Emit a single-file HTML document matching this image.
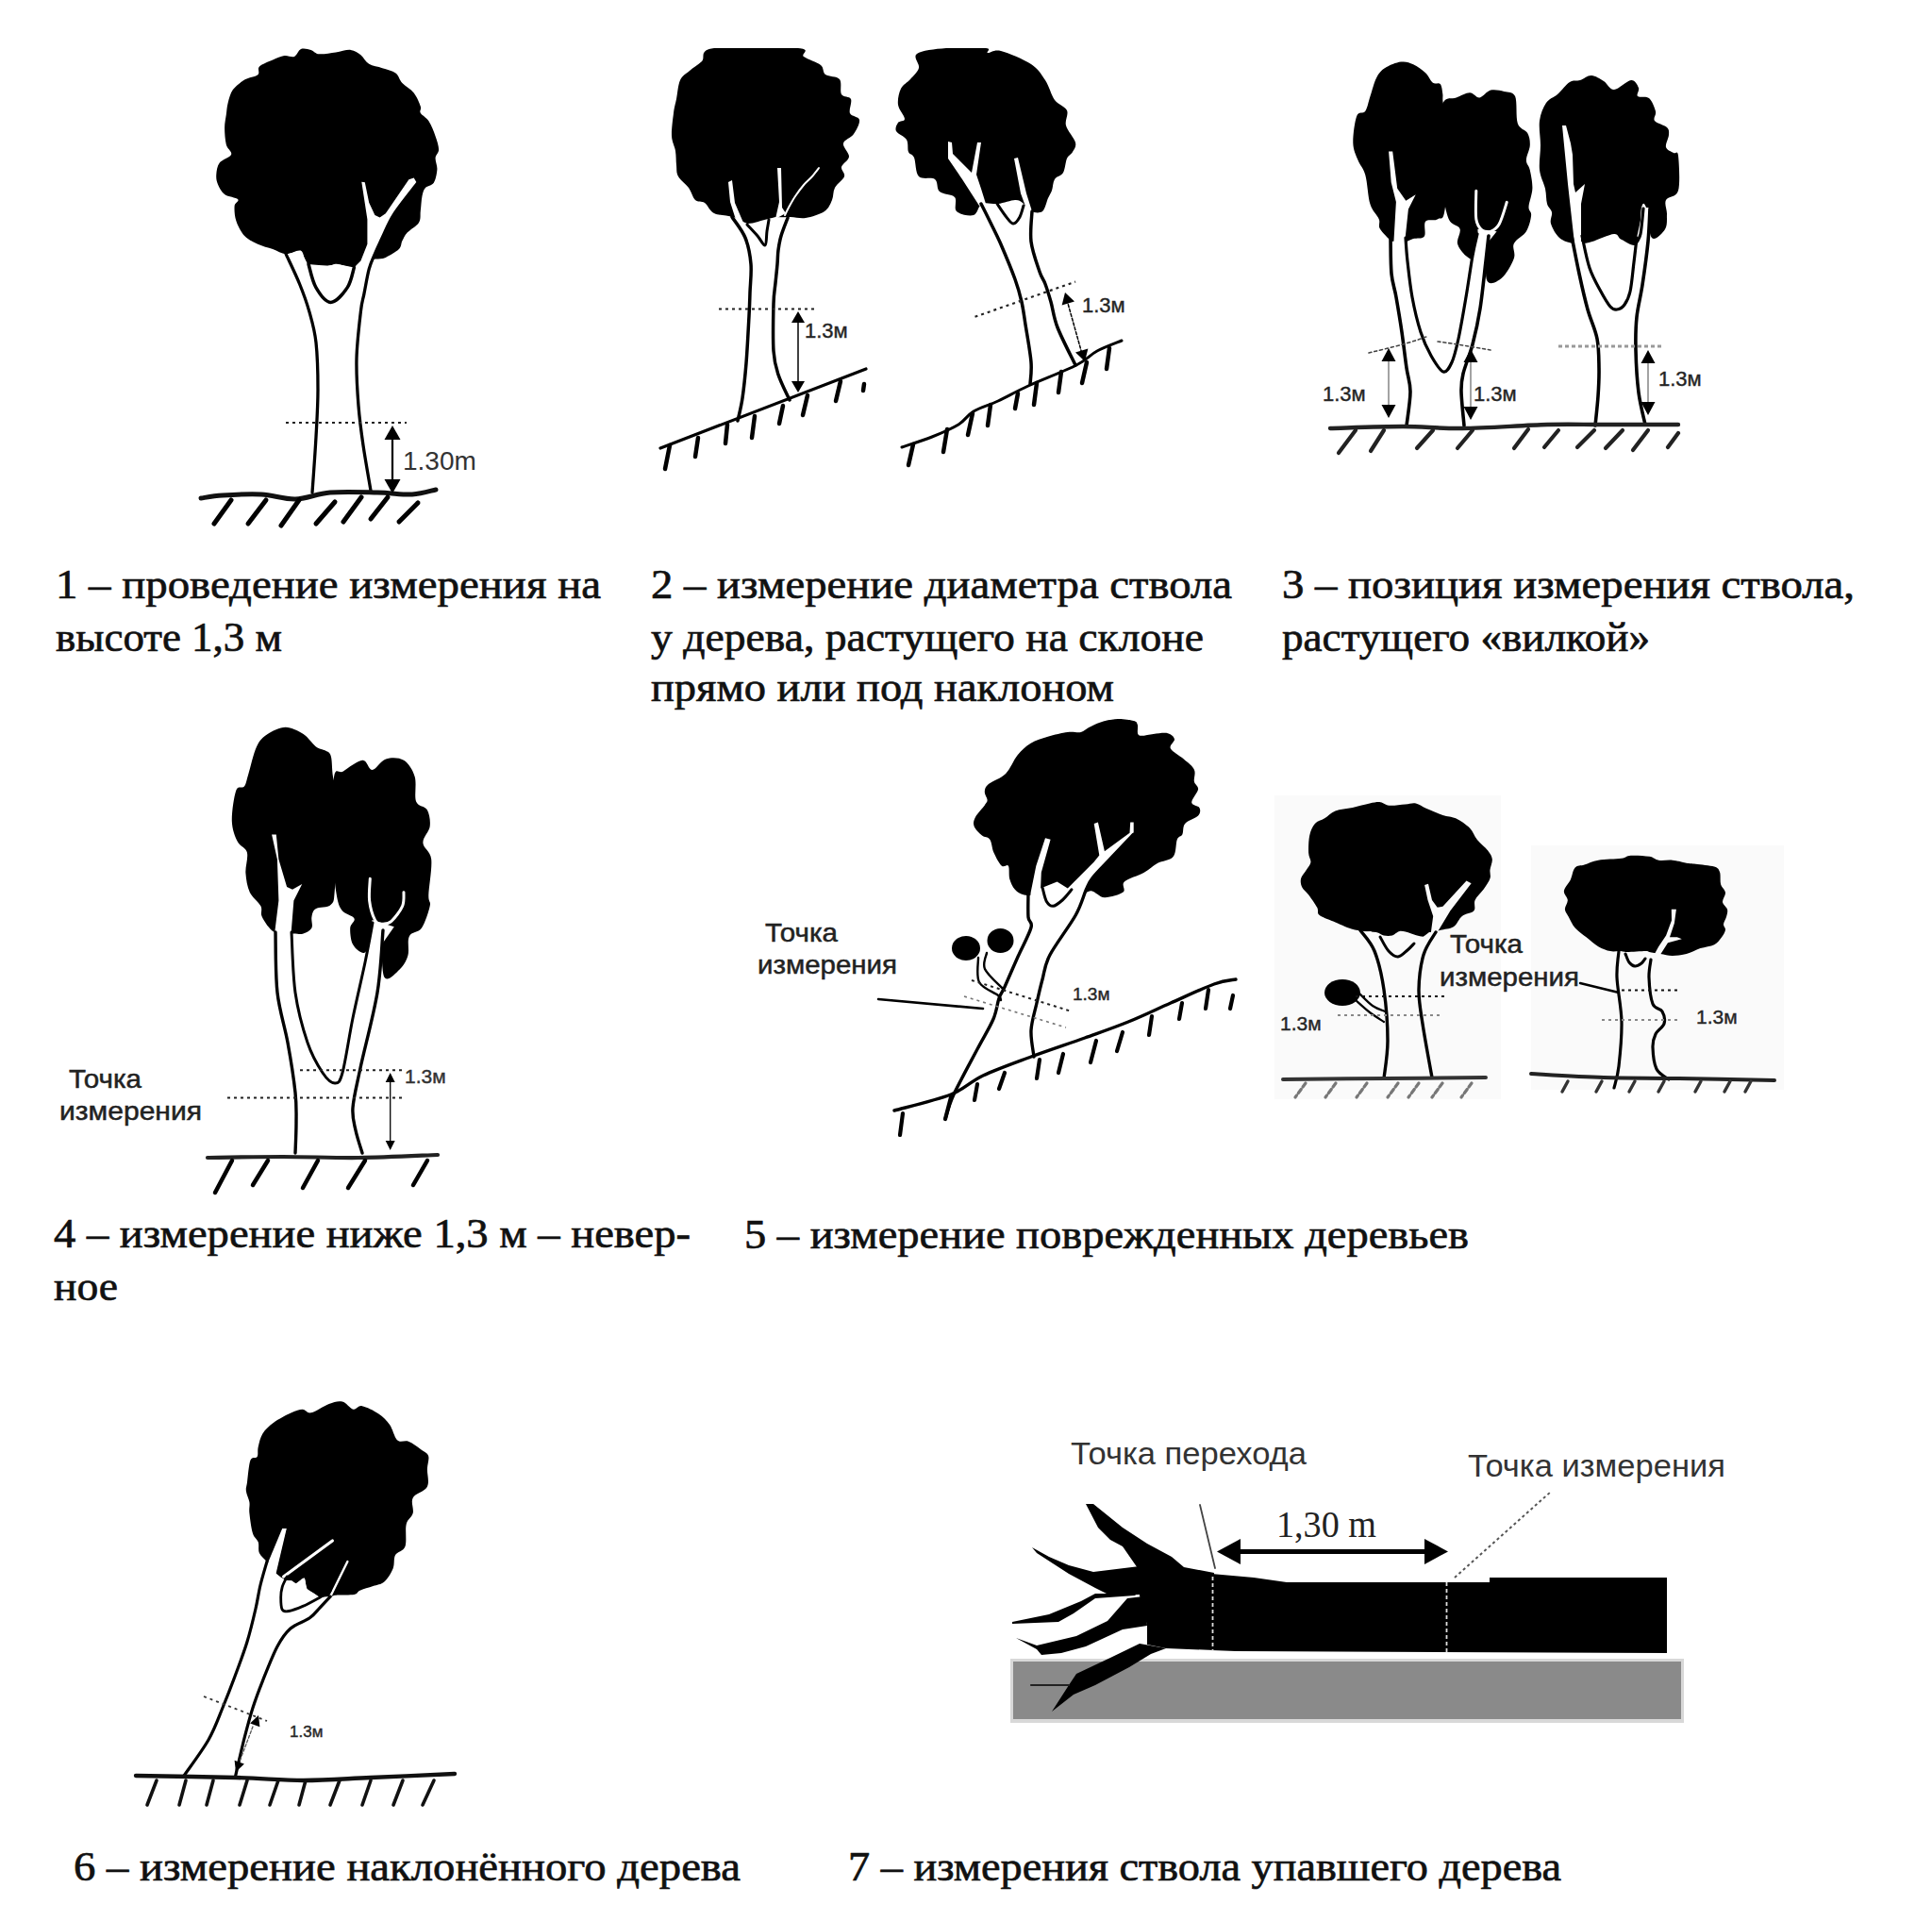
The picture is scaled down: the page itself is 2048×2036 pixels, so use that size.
<!DOCTYPE html>
<html><head><meta charset="utf-8"><style>
html,body{margin:0;padding:0;background:#fff;width:2048px;height:2036px;overflow:hidden}
svg{position:absolute;left:0;top:0}
</style></head><body>
<svg width="2048" height="2036" viewBox="0 0 2048 2036">
<text x="59" y="634" font-family="Liberation Serif" font-size="44" fill="#111" stroke="#111" stroke-width="0.7" textLength="578" lengthAdjust="spacingAndGlyphs">1 – проведение измерения на</text>
<text x="59" y="690" font-family="Liberation Serif" font-size="44" fill="#111" stroke="#111" stroke-width="0.7" textLength="240" lengthAdjust="spacingAndGlyphs">высоте 1,3 м</text>
<text x="690" y="634" font-family="Liberation Serif" font-size="44" fill="#111" stroke="#111" stroke-width="0.7" textLength="616" lengthAdjust="spacingAndGlyphs">2 – измерение диаметра ствола</text>
<text x="690" y="690" font-family="Liberation Serif" font-size="44" fill="#111" stroke="#111" stroke-width="0.7" textLength="586" lengthAdjust="spacingAndGlyphs">у дерева, растущего на склоне</text>
<text x="690" y="743" font-family="Liberation Serif" font-size="44" fill="#111" stroke="#111" stroke-width="0.7" textLength="491" lengthAdjust="spacingAndGlyphs">прямо или под наклоном</text>
<text x="1359" y="634" font-family="Liberation Serif" font-size="44" fill="#111" stroke="#111" stroke-width="0.7" textLength="607" lengthAdjust="spacingAndGlyphs">3 – позиция измерения ствола,</text>
<text x="1359" y="690" font-family="Liberation Serif" font-size="44" fill="#111" stroke="#111" stroke-width="0.7" textLength="390" lengthAdjust="spacingAndGlyphs">растущего «вилкой»</text>
<text x="57" y="1322" font-family="Liberation Serif" font-size="44" fill="#111" stroke="#111" stroke-width="0.7" textLength="675" lengthAdjust="spacingAndGlyphs">4 – измерение ниже 1,3 м – невер-</text>
<text x="57" y="1378" font-family="Liberation Serif" font-size="44" fill="#111" stroke="#111" stroke-width="0.7" textLength="68" lengthAdjust="spacingAndGlyphs">ное</text>
<text x="789" y="1323" font-family="Liberation Serif" font-size="44" fill="#111" stroke="#111" stroke-width="0.7" textLength="768" lengthAdjust="spacingAndGlyphs">5 – измерение поврежденных деревьев</text>
<text x="78" y="1993" font-family="Liberation Serif" font-size="44" fill="#111" stroke="#111" stroke-width="0.7" textLength="707" lengthAdjust="spacingAndGlyphs">6 – измерение наклонённого дерева</text>
<text x="899" y="1993" font-family="Liberation Serif" font-size="44" fill="#111" stroke="#111" stroke-width="0.7" textLength="756" lengthAdjust="spacingAndGlyphs">7 – измерения ствола упавшего дерева</text>
<path d="M275.0,70.5 C277.6,67.8 284.7,65.3 289.1,63.4 C293.5,61.5 297.6,59.6 301.4,59.0 C305.2,58.4 309.1,61.1 312.0,59.9 C314.9,58.7 316.1,53.2 319.0,52.0 C321.9,50.8 326.4,52.0 329.6,52.9 C332.8,53.8 334.0,56.9 338.4,57.3 C342.8,57.7 350.4,56.2 356.0,55.5 C361.6,54.8 367.4,52.4 371.8,52.9 C376.2,53.4 379.2,55.7 382.4,58.2 C385.6,60.7 387.4,65.5 391.2,67.8 C395.0,70.1 400.6,70.6 405.3,72.2 C410.0,73.8 415.9,74.8 419.4,77.5 C422.9,80.2 423.2,84.6 426.4,88.1 C429.6,91.6 435.5,94.5 438.7,98.6 C441.9,102.7 444.6,109.2 445.8,112.7 C447.0,116.2 444.3,117.2 445.8,119.8 C447.3,122.4 452.0,124.5 454.6,128.6 C457.2,132.7 459.9,139.4 461.6,144.4 C463.4,149.4 465.1,154.7 465.1,158.5 C465.1,162.3 461.9,163.8 461.6,167.3 C461.3,170.8 463.7,175.2 463.4,179.6 C463.1,184.0 461.9,190.5 459.8,193.7 C457.7,196.9 453.1,196.7 451.0,199.0 C448.9,201.3 448.4,203.7 447.5,207.8 C446.6,211.9 446.4,218.9 445.8,223.6 C445.2,228.3 446.4,232.1 444.0,235.9 C441.6,239.7 434.6,243.3 431.7,246.5 C428.8,249.7 427.9,252.4 426.4,255.3 C424.9,258.2 425.8,261.2 422.9,264.1 C420.0,267.0 412.9,271.1 408.8,272.9 C404.7,274.6 401.7,274.0 398.2,274.6 C394.7,275.2 391.5,274.9 387.7,276.4 C383.9,277.9 380.4,282.8 375.4,283.4 C370.4,284.0 362.5,280.2 357.8,279.9 C353.1,279.6 352.5,281.7 347.2,281.7 C341.9,281.7 330.8,282.5 326.1,279.9 C321.4,277.2 322.8,267.6 319.0,265.8 C315.2,264.1 308.2,269.7 303.2,269.4 C298.2,269.1 294.1,265.9 289.1,264.1 C284.1,262.3 278.3,261.2 273.3,258.8 C268.3,256.4 263.0,254.1 259.2,250.0 C255.4,245.9 252.2,239.5 250.4,234.2 C248.6,228.9 248.3,222.1 248.6,218.3 C248.9,214.5 253.9,213.4 252.2,211.3 C250.4,209.2 241.6,208.7 238.1,206.0 C234.6,203.3 232.5,198.9 231.0,195.4 C229.5,191.9 229.0,188.7 229.3,184.9 C229.6,181.1 230.2,176.1 232.8,172.6 C235.4,169.1 243.9,167.0 245.1,163.8 C246.3,160.6 241.0,157.9 239.8,153.2 C238.6,148.5 238.1,140.9 238.1,135.6 C238.1,130.3 239.2,125.9 239.8,121.5 C240.4,117.1 240.4,113.6 241.6,109.2 C242.8,104.8 244.0,99.2 246.9,95.1 C249.8,91.0 254.8,87.2 259.2,84.6 C263.6,82.0 270.7,81.6 273.3,79.3 C275.9,77.0 272.4,73.2 275.0,70.5 Z" fill="#000" stroke="none" stroke-width="0" stroke-linecap="round" stroke-linejoin="round" />
<path d="M383.3,192.8 L386.8,193.3 L391.2,214.8 L397.4,228.0 L402.6,230.6 L408.8,226.2 L433.4,190.2 L438.7,188.4 L442.2,194.6 L417.6,227.1 L405.3,251.8 L396.5,271.1 L391.2,285.2 L385.9,311.6 L382.4,330.1 L327.8,330.1 L317.6,301.0 L303.2,269.4 L319.0,265.8 L326.1,279.9 L347.2,281.7 L357.8,279.9 L375.4,283.4 L382.4,276.4 L389.4,258.8 L389.4,232.4Z" fill="#fff" stroke="none" stroke-width="0" stroke-linejoin="round" />
<path d="M442.2,194.6 C438.1,200.0 423.8,217.6 417.6,227.1 C411.5,236.6 408.8,244.5 405.3,251.8 C401.8,259.1 398.9,265.5 396.5,271.1 C394.1,276.7 393.0,278.4 391.2,285.2 C389.4,291.9 387.4,304.1 385.9,311.6 C384.4,319.1 383.7,318.7 382.4,330.1 C381.1,341.5 378.4,363.4 378,380 C377.6,396.6 378.8,414.7 380,430 C381.2,445.3 382.8,457.0 385,472 C387.2,487.0 391.7,512.0 393,520 " fill="none" stroke="#000" stroke-width="3.3" stroke-linecap="round" stroke-linejoin="round" />
<path d="M303.2,269.4 C305.6,274.7 313.5,290.9 317.6,301.0 C321.7,311.1 324.9,319.8 327.8,330.1 C330.7,340.4 333.5,349.2 335,363 C336.5,376.8 337.0,396.3 337,413 C337.0,429.7 336.0,444.8 335,463 C334.0,481.2 331.7,512.2 331,522 " fill="none" stroke="#000" stroke-width="3.3" stroke-linecap="round" stroke-linejoin="round" />
<path d="M327.0,279.9 C328.3,284.0 330.9,297.9 334.9,304.6 C338.8,311.4 345.1,320.4 350.7,320.4 C356.3,320.4 364.2,310.8 368.3,304.6 C372.4,298.4 374.2,286.9 375.4,283.4 " fill="none" stroke="#000" stroke-width="3.5" stroke-linecap="round" stroke-linejoin="round" />
<path d="M213,528 C216.8,527.5 225.3,525.7 236,525 C246.7,524.3 264.2,523.3 277,524 C289.8,524.7 300.8,529.3 313,529 C325.2,528.7 335.5,523.2 350,522 C364.5,520.8 385.5,521.7 400,522 C414.5,522.3 426.7,524.5 437,524 C447.3,523.5 457.8,519.8 462,519 " fill="none" stroke="#111" stroke-width="5" stroke-linecap="round" stroke-linejoin="round" />
<path d="M245,530 L227,555" fill="none" stroke="#000" stroke-width="5" stroke-linecap="round" stroke-linejoin="round" />
<path d="M282,530 L263,555" fill="none" stroke="#000" stroke-width="5" stroke-linecap="round" stroke-linejoin="round" />
<path d="M317,530 L298,557" fill="none" stroke="#000" stroke-width="5" stroke-linecap="round" stroke-linejoin="round" />
<path d="M355,532 L335,555" fill="none" stroke="#000" stroke-width="5" stroke-linecap="round" stroke-linejoin="round" />
<path d="M383,527 L364,553" fill="none" stroke="#000" stroke-width="5" stroke-linecap="round" stroke-linejoin="round" />
<path d="M411,527 L393,550" fill="none" stroke="#000" stroke-width="5" stroke-linecap="round" stroke-linejoin="round" />
<path d="M443,533 L423,553" fill="none" stroke="#000" stroke-width="5" stroke-linecap="round" stroke-linejoin="round" />
<line x1="303" y1="448" x2="431" y2="448" stroke="#222" stroke-width="2.2" stroke-dasharray="3 4"/>
<path d="M416,460 L416,514" fill="none" stroke="#000" stroke-width="2.2" stroke-linecap="round" stroke-linejoin="round" />
<path d="M416,451 L424.5,466.0 L407.5,466.0Z" fill="#000"/>
<path d="M416,523 L407.5,508.0 L424.5,508.0Z" fill="#000"/>
<text x="427" y="497.5" font-family="Liberation Sans" font-size="28" fill="#333" >1.30m</text>
<defs><clipPath id="c2"><rect x="600" y="51" width="700" height="500"/></clipPath></defs>
<g clip-path="url(#c2)"><path d="M757,51 C774.0,48.7 830.2,49.5 846,51 C861.8,52.5 848.0,57.0 852,60 C856.0,63.0 866.2,65.8 870,69 C873.8,72.2 871.7,76.5 875,79 C878.3,81.5 887.2,80.5 890,84 C892.8,87.5 890.0,96.5 892,100 C894.0,103.5 900.5,101.7 902,105 C903.5,108.3 899.5,116.3 901,120 C902.5,123.7 910.3,123.3 911,127 C911.7,130.7 907.8,137.8 905,142 C902.2,146.2 894.8,148.0 894,152 C893.2,156.0 900.3,161.8 900,166 C899.7,170.2 892.8,173.5 892,177 C891.2,180.5 896.2,183.3 895,187 C893.8,190.7 887.2,194.8 885,199 C882.8,203.2 883.8,207.8 882,212 C880.2,216.2 878.7,220.8 874,224 C869.3,227.2 860.2,230.0 854,231 C847.8,232.0 843.5,229.8 837,230 C830.5,230.2 822.5,230.8 815,232 C807.5,233.2 798.3,237.3 792,237 C785.7,236.7 782.8,231.8 777,230 C771.2,228.2 762.0,228.5 757,226 C752.0,223.5 750.3,217.3 747,215 C743.7,212.7 739.8,214.7 737,212 C734.2,209.3 733.0,203.2 730,199 C727.0,194.8 721.2,191.0 719,187 C716.8,183.0 717.5,179.5 717,175 C716.5,170.5 716.8,165.2 716,160 C715.2,154.8 712.3,150.7 712,144 C711.7,137.3 713.2,126.5 714,120 C714.8,113.5 715.8,110.8 717,105 C718.2,99.2 718.7,90.0 721,85 C723.3,80.0 727.2,78.3 731,75 C734.8,71.7 739.7,69.0 744,65 C748.3,61.0 740.0,53.3 757,51 Z" fill="#000" stroke="none" stroke-width="0" stroke-linecap="round" stroke-linejoin="round" /></g>
<path d="M772,193 L776,191 L779,215 L788,236 L794,244 L790,250 L781,236 L774,214Z" fill="#fff" stroke="none" stroke-width="0" stroke-linejoin="round" />
<path d="M824,178 L828,178 L829,220 L833,226 L822,232 L826,214Z" fill="#fff" stroke="none" stroke-width="0" stroke-linejoin="round" />
<path d="M868,178 C866.7,179.7 862.7,185.0 860,188 C857.3,191.0 854.8,192.7 852,196 C849.2,199.3 845.7,204.0 843,208 C840.3,212.0 837.8,216.7 836,220 C834.2,223.3 832.7,226.7 832,228 " fill="none" stroke="#fff" stroke-width="2" stroke-linecap="round" stroke-linejoin="round" />
<path d="M777,230 L792,237 L811,260 L815,232 L822,230 L835,231 L825,265 L820,322 L820,372 L825,397 L837,424 L782,446 L791,385 L795,285 L790,252Z" fill="#fff" stroke="none" stroke-width="0" stroke-linejoin="round" />
<path d="M776,230 C778.3,233.7 786.7,243.7 790,252 C793.3,260.3 795.2,270.3 796,280 C796.8,289.7 795.3,300.8 795,310 C794.7,319.2 794.7,322.5 794,335 C793.3,347.5 792.2,370.5 791,385 C789.8,399.5 788.5,411.8 787,422 C785.5,432.2 782.8,442.0 782,446 " fill="none" stroke="#000" stroke-width="3.5" stroke-linecap="round" stroke-linejoin="round" />
<path d="M835,231 C833.8,234.2 829.7,244.3 828,250 C826.3,255.7 825.7,260.0 825,265 C824.3,270.0 824.5,274.2 824,280 C823.5,285.8 822.7,293.0 822,300 C821.3,307.0 820.3,310.0 820,322 C819.7,334.0 819.2,359.5 820,372 C820.8,384.5 822.2,388.3 825,397 C827.8,405.7 835.0,419.5 837,424 " fill="none" stroke="#000" stroke-width="3.5" stroke-linecap="round" stroke-linejoin="round" />
<path d="M792,238 C793.8,240.0 799.8,246.3 803,250 C806.2,253.7 809.3,260.8 811,260 C812.7,259.2 812.3,249.5 813,245 C813.7,240.5 814.7,235.0 815,233 " fill="none" stroke="#000" stroke-width="3" stroke-linecap="round" stroke-linejoin="round" />
<path d="M700,475 L918,391" fill="none" stroke="#000" stroke-width="3.2" stroke-linecap="round" stroke-linejoin="round" />
<path d="M710,472 L705,497" fill="none" stroke="#000" stroke-width="4.5" stroke-linecap="round" stroke-linejoin="round" />
<path d="M740,464 L737,484" fill="none" stroke="#000" stroke-width="4.5" stroke-linecap="round" stroke-linejoin="round" />
<path d="M771,450 L769,470" fill="none" stroke="#000" stroke-width="4.5" stroke-linecap="round" stroke-linejoin="round" />
<path d="M800,441 L797,464" fill="none" stroke="#000" stroke-width="4.5" stroke-linecap="round" stroke-linejoin="round" />
<path d="M830,430 L826,449" fill="none" stroke="#000" stroke-width="4.5" stroke-linecap="round" stroke-linejoin="round" />
<path d="M856,419 L851,440" fill="none" stroke="#000" stroke-width="4.5" stroke-linecap="round" stroke-linejoin="round" />
<path d="M891,404 L886,425" fill="none" stroke="#000" stroke-width="4.5" stroke-linecap="round" stroke-linejoin="round" />
<path d="M916,407 L915,414" fill="none" stroke="#000" stroke-width="4.5" stroke-linecap="round" stroke-linejoin="round" />
<line x1="762" y1="327.5" x2="865" y2="327.5" stroke="#222" stroke-width="2.2" stroke-dasharray="3 4"/>
<path d="M846,340 L846,406" fill="none" stroke="#000" stroke-width="1.5" stroke-linecap="round" stroke-linejoin="round" />
<path d="M846,330 L853.0,342.0 L839.0,342.0Z" fill="#000"/>
<path d="M846,416 L839.0,404.0 L853.0,404.0Z" fill="#000"/>
<text x="853" y="357.5" font-family="Liberation Sans" font-size="22" fill="#222" stroke="#333" stroke-width="0.45">1.3м</text>
<g clip-path="url(#c2)"><path d="M972,57 C976.8,53.5 990.8,52.0 1003,51 C1015.2,50.0 1037.7,50.2 1045,51 C1052.3,51.8 1044.3,55.5 1047,56 C1049.7,56.5 1053.3,52.0 1061,54 C1068.7,56.0 1085.2,62.8 1093,68 C1100.8,73.2 1103.8,78.7 1108,85 C1112.2,91.3 1114.2,100.7 1118,106 C1121.8,111.3 1129.0,112.5 1131,117 C1133.0,121.5 1128.5,127.3 1130,133 C1131.5,138.7 1138.8,146.3 1140,151 C1141.2,155.7 1138.5,158.2 1137,161 C1135.5,163.8 1132.7,164.3 1131,168 C1129.3,171.7 1129.2,179.3 1127,183 C1124.8,186.7 1120.0,186.8 1118,190 C1116.0,193.2 1116.2,198.7 1115,202 C1113.8,205.3 1112.7,206.3 1111,210 C1109.3,213.7 1108.0,221.7 1105,224 C1102.0,226.3 1096.5,225.5 1093,224 C1089.5,222.5 1086.8,217.0 1084,215 C1081.2,213.0 1080.3,211.8 1076,212 C1071.7,212.2 1063.8,215.3 1058,216 C1052.2,216.7 1045.3,214.0 1041,216 C1036.7,218.0 1036.5,226.7 1032,228 C1027.5,229.3 1017.3,227.2 1014,224 C1010.7,220.8 1015.0,212.5 1012,209 C1009.0,205.5 999.5,206.2 996,203 C992.5,199.8 994.7,192.7 991,190 C987.3,187.3 977.7,190.8 974,187 C970.3,183.2 970.8,171.3 969,167 C967.2,162.7 964.3,164.2 963,161 C961.7,157.8 963.2,151.7 961,148 C958.8,144.3 951.5,142.0 950,139 C948.5,136.0 950.5,132.2 952,130 C953.5,127.8 959.0,129.2 959,126 C959.0,122.8 952.7,116.3 952,111 C951.3,105.7 952.8,98.5 955,94 C957.2,89.5 961.8,87.7 965,84 C968.2,80.3 972.8,76.5 974,72 C975.2,67.5 967.2,60.5 972,57 Z" fill="#000" stroke="none" stroke-width="0" stroke-linecap="round" stroke-linejoin="round" /></g>
<path d="M1005,150 L1009,151 L1010,163 L1030,183 L1036,151 L1040,151 L1035,185 L1040,200 L1045,216 L1038,218 L1020,190 L1005,168Z" fill="#fff" stroke="none" stroke-width="0" stroke-linejoin="round" />
<path d="M1075,168 L1079,167 L1088,205 L1094,224 L1089,224 L1082,205Z" fill="#fff" stroke="none" stroke-width="0" stroke-linejoin="round" />
<path d="M1041,216 L1058,216 L1074,237 L1084,218 L1093,222 L1094,256 L1102,288 L1114,320 L1140,387 L1092,407 L1087,344 L1076,296 L1061,259Z" fill="#fff" stroke="none" stroke-width="0" stroke-linejoin="round" />
<path d="M1040,216 C1041.7,219.3 1046.5,228.8 1050,236 C1053.5,243.2 1056.7,249.0 1061,259 C1065.3,269.0 1072.3,285.8 1076,296 C1079.7,306.2 1081.2,312.0 1083,320 C1084.8,328.0 1085.3,333.3 1087,344 C1088.7,354.7 1092.2,373.5 1093,384 C1093.8,394.5 1092.2,403.2 1092,407 " fill="none" stroke="#000" stroke-width="3.5" stroke-linecap="round" stroke-linejoin="round" />
<path d="M1094,224 C1093.8,229.3 1091.7,245.3 1093,256 C1094.3,266.7 1099.5,280.5 1102,288 C1104.5,295.5 1106.0,295.7 1108,301 C1110.0,306.3 1111.8,312.3 1114,320 C1116.2,327.7 1116.7,335.8 1121,347 C1125.3,358.2 1136.8,380.3 1140,387 " fill="none" stroke="#000" stroke-width="3.5" stroke-linecap="round" stroke-linejoin="round" />
<path d="M1057,216 C1058.5,218.2 1063.2,225.5 1066,229 C1068.8,232.5 1071.5,236.8 1074,237 C1076.5,237.2 1079.2,233.2 1081,230 C1082.8,226.8 1084.3,220.0 1085,218 " fill="none" stroke="#000" stroke-width="3" stroke-linecap="round" stroke-linejoin="round" />
<path d="M956,474 C961.3,472.2 978.0,467.0 988,463 C998.0,459.0 1008.7,454.5 1016,450 C1023.3,445.5 1025.0,440.2 1032,436 C1039.0,431.8 1048.3,429.5 1058,425 C1067.7,420.5 1076.2,415.3 1090,409 C1103.8,402.7 1128.8,393.2 1141,387 C1153.2,380.8 1155.0,376.3 1163,372 C1171.0,367.7 1184.7,362.8 1189,361 " fill="none" stroke="#000" stroke-width="3" stroke-linecap="round" stroke-linejoin="round" />
<path d="M968,471 L963,493" fill="none" stroke="#000" stroke-width="4.5" stroke-linecap="round" stroke-linejoin="round" />
<path d="M1004,455 L1000,479" fill="none" stroke="#000" stroke-width="4.5" stroke-linecap="round" stroke-linejoin="round" />
<path d="M1031,438 L1026,461" fill="none" stroke="#000" stroke-width="4.5" stroke-linecap="round" stroke-linejoin="round" />
<path d="M1050,429 L1047,451" fill="none" stroke="#000" stroke-width="4.5" stroke-linecap="round" stroke-linejoin="round" />
<path d="M1079,417 L1076,433" fill="none" stroke="#000" stroke-width="4.5" stroke-linecap="round" stroke-linejoin="round" />
<path d="M1099,406 L1096,429" fill="none" stroke="#000" stroke-width="4.5" stroke-linecap="round" stroke-linejoin="round" />
<path d="M1125,394 L1122,416" fill="none" stroke="#000" stroke-width="4.5" stroke-linecap="round" stroke-linejoin="round" />
<path d="M1152,384 L1147,406" fill="none" stroke="#000" stroke-width="4.5" stroke-linecap="round" stroke-linejoin="round" />
<path d="M1176,369 L1173,391" fill="none" stroke="#000" stroke-width="4.5" stroke-linecap="round" stroke-linejoin="round" />
<line x1="1033.5" y1="335.8" x2="1140" y2="298.6" stroke="#222" stroke-width="2.2" stroke-dasharray="3 4"/>
<path d="M1131,318 L1147,375" fill="none" stroke="#000" stroke-width="1.5" stroke-linecap="round" stroke-linejoin="round" stroke-dasharray="3 2"/>
<path d="M1129,310 L1139.0,319.6 L1125.6,323.5Z" fill="#000"/>
<path d="M1150,383 L1140.0,373.4 L1153.4,369.5Z" fill="#000"/>
<text x="1147" y="331.4" font-family="Liberation Sans" font-size="22" fill="#222" stroke="#333" stroke-width="0.45">1.3м</text>
<path d="M1468.2,72.1 C1472.5,69.3 1480.1,66.2 1485.1,65.6 C1490.1,64.9 1493.8,66.2 1498.1,68.2 C1502.4,70.2 1507.6,74.0 1511.1,77.3 C1514.6,80.6 1516.3,85.8 1518.9,87.8 C1521.5,89.8 1525.0,87.1 1526.7,89.1 C1528.4,91.0 1528.8,96.0 1529.3,99.5 C1529.8,103.0 1528.7,105.1 1530.0,109.9 C1531.3,114.7 1536.9,109.9 1537.2,128.1 C1537.5,146.3 1534.2,201.8 1532.0,219.2 C1529.8,236.5 1527.6,229.6 1524.1,232.2 C1520.6,234.8 1513.5,231.8 1511.1,234.8 C1508.7,237.9 1512.0,247.4 1509.8,250.5 C1507.6,253.6 1501.8,252.0 1498.1,253.1 C1494.4,254.2 1491.2,256.4 1487.7,257.0 C1484.2,257.6 1481.4,259.4 1477.3,257.0 C1473.2,254.6 1465.6,246.8 1463.0,242.7 C1460.4,238.6 1463.5,236.5 1461.7,232.2 C1460.0,227.8 1454.9,224.4 1452.5,216.6 C1450.1,208.8 1449.5,193.2 1447.3,185.4 C1445.1,177.6 1441.7,175.5 1439.5,169.8 C1437.3,164.2 1434.5,159.3 1434.3,151.5 C1434.1,143.7 1436.0,128.5 1438.2,122.9 C1440.4,117.3 1444.9,121.2 1447.3,117.7 C1449.7,114.2 1450.5,108.0 1452.5,102.1 C1454.5,96.2 1456.5,87.5 1459.1,82.5 C1461.7,77.5 1463.9,74.9 1468.2,72.1 Z" fill="#000" stroke="none" stroke-width="0" stroke-linecap="round" stroke-linejoin="round" />
<path d="M1530.0,108.6 C1532.6,102.3 1539.0,105.1 1543.7,103.4 C1548.4,101.7 1553.9,98.2 1558.0,98.2 C1562.1,98.2 1564.7,103.8 1568.4,103.4 C1572.1,103.0 1575.8,96.7 1580.1,95.6 C1584.4,94.5 1590.1,95.8 1594.4,96.9 C1598.7,98.0 1603.7,96.5 1606.1,102.1 C1608.5,107.7 1606.6,124.2 1608.8,130.7 C1611.0,137.2 1617.0,137.2 1619.2,141.1 C1621.4,145.0 1622.0,149.3 1621.8,154.1 C1621.6,158.9 1617.9,165.5 1617.9,169.8 C1617.9,174.2 1620.7,175.2 1621.8,180.2 C1622.9,185.2 1624.6,193.2 1624.4,199.7 C1624.2,206.2 1620.7,214.4 1620.5,219.2 C1620.3,224.0 1623.5,224.0 1623.1,228.3 C1622.7,232.7 1621.0,240.3 1617.9,245.3 C1614.9,250.3 1607.0,253.5 1604.8,258.3 C1602.6,263.1 1607.0,267.8 1604.8,273.9 C1602.6,280.0 1596.6,290.8 1591.8,294.7 C1587.0,298.6 1579.0,303.4 1576.2,297.3 C1573.4,291.2 1576.4,265.7 1574.9,258.3 C1573.4,250.9 1569.0,250.5 1567.1,253.1 C1565.1,255.7 1565.4,270.9 1563.2,273.9 C1561.0,276.9 1557.1,273.9 1554.1,271.3 C1551.1,268.7 1546.1,263.1 1545.0,258.3 C1543.9,253.5 1548.9,246.6 1547.6,242.7 C1546.3,238.8 1539.8,238.7 1537.2,234.8 C1534.6,230.9 1533.1,224.0 1532.0,219.2 C1530.9,214.4 1531.3,219.2 1530.6,206.2 C1529.9,193.2 1528.1,157.4 1528.0,141.1 C1527.9,124.8 1527.4,114.9 1530.0,108.6 Z" fill="#000" stroke="none" stroke-width="0" stroke-linecap="round" stroke-linejoin="round" />
<path d="M1472.1,160.6 L1476.2,160.6 L1481.2,199.7 L1490.3,212.7 L1500.7,206.2 L1492.9,221.8 L1489.0,258.3 L1477.3,258.3 L1479.9,214.0 L1474.7,193.2Z" fill="#fff" stroke="none" stroke-width="0" stroke-linejoin="round" />
<path d="M1564.8,202.3 C1564.8,207.3 1563.8,225.2 1564.8,232.2 C1565.8,239.1 1568.5,241.8 1571.0,244.0 C1573.5,246.2 1577.1,246.4 1580.1,245.3 C1583.1,244.2 1586.3,242.7 1589.2,237.5 C1592.1,232.3 1596.0,218.2 1597.3,214.3 " fill="none" stroke="#fff" stroke-width="3" stroke-linecap="round" stroke-linejoin="round" />
<path d="M1566.4,242.7 L1586.6,245.3 L1576.2,258.3 L1567.1,258.3Z" fill="#fff" stroke="none" stroke-width="0" stroke-linejoin="round" />
<path d="M1474,256 L1491,255 L1492,277 L1497,315 L1506,352 L1517,377 L1530,394 L1539,384 L1546,359 L1554,315 L1561,271 L1566,250 L1577,252 L1575,277 L1569,327 L1561,365 L1551,396 L1549,415 L1552,451 L1491,451 L1495,415 L1491,390 L1486,352 L1480,315 L1475,290Z" fill="#fff" stroke="none" stroke-width="0" stroke-linejoin="round" />
<path d="M1474,252 C1474.2,258.3 1474.0,279.5 1475,290 C1476.0,300.5 1478.2,304.7 1480,315 C1481.8,325.3 1484.2,339.5 1486,352 C1487.8,364.5 1489.5,379.5 1491,390 C1492.5,400.5 1495.0,404.8 1495,415 C1495.0,425.2 1491.7,445.0 1491,451 " fill="none" stroke="#000" stroke-width="3.6" stroke-linecap="round" stroke-linejoin="round" />
<path d="M1490,252 C1490.3,256.2 1490.8,266.5 1492,277 C1493.2,287.5 1494.7,302.5 1497,315 C1499.3,327.5 1502.7,341.7 1506,352 C1509.3,362.3 1513.0,370.0 1517,377 C1521.0,384.0 1526.3,392.8 1530,394 C1533.7,395.2 1536.3,389.8 1539,384 C1541.7,378.2 1543.5,370.5 1546,359 C1548.5,347.5 1551.5,329.7 1554,315 C1556.5,300.3 1559.0,282.2 1561,271 C1563.0,259.8 1565.2,251.8 1566,248 " fill="none" stroke="#000" stroke-width="3.2" stroke-linecap="round" stroke-linejoin="round" />
<path d="M1578,250 C1577.5,254.5 1576.5,264.2 1575,277 C1573.5,289.8 1571.3,312.3 1569,327 C1566.7,341.7 1564.0,353.5 1561,365 C1558.0,376.5 1553.0,387.7 1551,396 C1549.0,404.3 1548.8,405.8 1549,415 C1549.2,424.2 1551.5,445.0 1552,451 " fill="none" stroke="#000" stroke-width="3.6" stroke-linecap="round" stroke-linejoin="round" />
<path d="M1651,100 C1655.2,96.3 1660.0,89.5 1664,87 C1668.0,84.5 1671.2,86.2 1675,85 C1678.8,83.8 1682.8,79.8 1687,80 C1691.2,80.2 1696.0,83.5 1700,86 C1704.0,88.5 1706.2,95.2 1711,95 C1715.8,94.8 1724.7,85.3 1729,85 C1733.3,84.7 1735.8,90.2 1737,93 C1738.2,95.8 1734.2,100.2 1736,102 C1737.8,103.8 1744.8,101.3 1748,104 C1751.2,106.7 1754.0,114.0 1755,118 C1756.0,122.0 1752.0,125.2 1754,128 C1756.0,130.8 1764.5,132.5 1767,135 C1769.5,137.5 1769.2,139.5 1769,143 C1768.8,146.5 1765.2,152.8 1766,156 C1766.8,159.2 1771.8,160.5 1774,162 C1776.2,163.5 1778.2,158.3 1779,165 C1779.8,171.7 1781.2,194.2 1779,202 C1776.8,209.8 1768.0,207.8 1766,212 C1764.0,216.2 1767.2,221.8 1767,227 C1766.8,232.2 1767.7,238.8 1765,243 C1762.3,247.2 1754.3,255.8 1751,252 C1747.7,248.2 1746.8,225.3 1745,220 C1743.2,214.7 1741.5,213.7 1740,220 C1738.5,226.3 1739.5,252.3 1736,258 C1732.5,263.7 1723.2,255.7 1719,254 C1714.8,252.3 1716.2,247.7 1711,248 C1705.8,248.3 1693.5,254.3 1688,256 C1682.5,257.7 1681.5,257.7 1678,258 C1674.5,258.3 1671.2,259.0 1667,258 C1662.8,257.0 1656.8,255.5 1653,252 C1649.2,248.5 1645.3,241.5 1644,237 C1642.7,232.5 1645.7,228.5 1645,225 C1644.3,221.5 1641.2,220.2 1640,216 C1638.8,211.8 1639.3,206.0 1638,200 C1636.7,194.0 1632.8,187.7 1632,180 C1631.2,172.3 1633.0,162.7 1633,154 C1633.0,145.3 1631.0,135.5 1632,128 C1633.0,120.5 1635.8,113.7 1639,109 C1642.2,104.3 1646.8,103.7 1651,100 Z" fill="#000" stroke="none" stroke-width="0" stroke-linecap="round" stroke-linejoin="round" />
<path d="M1656,133 L1660,133 L1665,152 L1667,164 L1668,195 L1670,204 L1680,195 L1676,216 L1676,258 L1669,258 L1662,195Z" fill="#fff" stroke="none" stroke-width="0" stroke-linejoin="round" />
<path d="M1667,256 L1678,256 L1685,284 L1697,309 L1707,325 L1714,328 L1722,323 L1728,309 L1732,278 L1735,252 L1742,220 L1749,220 L1747,256 L1741,302 L1735,336 L1734,371 L1737,416 L1744,451 L1691,451 L1695,390 L1693,359 L1683,328 L1674,290Z" fill="#fff" stroke="none" stroke-width="0" stroke-linejoin="round" />
<path d="M1666,250 C1667.3,256.7 1671.2,277.0 1674,290 C1676.8,303.0 1679.8,316.5 1683,328 C1686.2,339.5 1691.0,348.7 1693,359 C1695.0,369.3 1694.8,379.8 1695,390 C1695.2,400.2 1694.7,409.8 1694,420 C1693.3,430.2 1691.5,445.8 1691,451 " fill="none" stroke="#000" stroke-width="3.6" stroke-linecap="round" stroke-linejoin="round" />
<path d="M1677,250 C1678.3,255.7 1681.7,274.2 1685,284 C1688.3,293.8 1693.3,302.2 1697,309 C1700.7,315.8 1704.2,321.8 1707,325 C1709.8,328.2 1711.5,328.3 1714,328 C1716.5,327.7 1719.7,326.2 1722,323 C1724.3,319.8 1726.3,316.5 1728,309 C1729.7,301.5 1730.8,287.5 1732,278 C1733.2,268.5 1734.5,256.3 1735,252 " fill="none" stroke="#000" stroke-width="3.2" stroke-linecap="round" stroke-linejoin="round" />
<path d="M1749,221 C1748.7,226.8 1748.3,242.5 1747,256 C1745.7,269.5 1743.0,288.7 1741,302 C1739.0,315.3 1736.2,324.5 1735,336 C1733.8,347.5 1733.7,357.7 1734,371 C1734.3,384.3 1735.3,402.8 1737,416 C1738.7,429.2 1742.8,444.3 1744,450 " fill="none" stroke="#000" stroke-width="3.6" stroke-linecap="round" stroke-linejoin="round" />
<path d="M1742,221 C1741.5,225.5 1740.3,241.8 1739,248 C1737.7,254.2 1734.8,256.3 1734,258 " fill="none" stroke="#000" stroke-width="3.2" stroke-linecap="round" stroke-linejoin="round" />
<path d="M1410,454 C1422.8,453.7 1463.7,452.0 1487,452 C1510.3,452.0 1524.5,454.3 1550,454 C1575.5,453.7 1615.0,450.7 1640,450 C1665.0,449.3 1676.8,450.0 1700,450 C1723.2,450.0 1765.8,450.0 1779,450 " fill="none" stroke="#222" stroke-width="4.4" stroke-linecap="round" stroke-linejoin="round" />
<path d="M1437,456 L1419,480" fill="none" stroke="#222" stroke-width="4.2" stroke-linecap="round" stroke-linejoin="round" />
<path d="M1467,456 L1453,478" fill="none" stroke="#222" stroke-width="4.2" stroke-linecap="round" stroke-linejoin="round" />
<path d="M1519,456 L1502,475" fill="none" stroke="#222" stroke-width="4.2" stroke-linecap="round" stroke-linejoin="round" />
<path d="M1561,456 L1545,475" fill="none" stroke="#222" stroke-width="4.2" stroke-linecap="round" stroke-linejoin="round" />
<path d="M1620,455 L1605,475" fill="none" stroke="#222" stroke-width="4.2" stroke-linecap="round" stroke-linejoin="round" />
<path d="M1652,456 L1637,474" fill="none" stroke="#222" stroke-width="4.2" stroke-linecap="round" stroke-linejoin="round" />
<path d="M1690,456 L1672,474" fill="none" stroke="#222" stroke-width="4.2" stroke-linecap="round" stroke-linejoin="round" />
<path d="M1720,456 L1702,475" fill="none" stroke="#222" stroke-width="4.2" stroke-linecap="round" stroke-linejoin="round" />
<path d="M1747,456 L1731,477" fill="none" stroke="#222" stroke-width="4.2" stroke-linecap="round" stroke-linejoin="round" />
<path d="M1779,459 L1768,474" fill="none" stroke="#222" stroke-width="4.2" stroke-linecap="round" stroke-linejoin="round" />
<path d="M1451,374 C1457.0,372.5 1476.8,367.8 1487,365 C1497.2,362.2 1507.8,358.3 1512,357 " fill="none" stroke="#444" stroke-width="1.6" stroke-linecap="round" stroke-linejoin="round" stroke-dasharray="3 3"/>
<path d="M1524,362 C1527.5,362.5 1535.7,363.5 1545,365 C1554.3,366.5 1574.2,370.0 1580,371 " fill="none" stroke="#444" stroke-width="1.6" stroke-linecap="round" stroke-linejoin="round" stroke-dasharray="3 3"/>
<line x1="1652" y1="367" x2="1761" y2="367" stroke="#999" stroke-width="3" stroke-dasharray="4 3"/>
<path d="M1472,383 L1472,429" fill="none" stroke="#666" stroke-width="1.2" stroke-linecap="round" stroke-linejoin="round" />
<path d="M1472,369 L1479.5,383.0 L1464.5,383.0Z" fill="#000"/>
<path d="M1472,443 L1464.5,429.0 L1479.5,429.0Z" fill="#000"/>
<path d="M1559,384 L1559,431" fill="none" stroke="#666" stroke-width="1.2" stroke-linecap="round" stroke-linejoin="round" />
<path d="M1559,370 L1566.5,384.0 L1551.5,384.0Z" fill="#000"/>
<path d="M1559,445 L1551.5,431.0 L1566.5,431.0Z" fill="#000"/>
<path d="M1747,385 L1747,426" fill="none" stroke="#666" stroke-width="1.2" stroke-linecap="round" stroke-linejoin="round" />
<path d="M1747,371 L1754.5,385.0 L1739.5,385.0Z" fill="#000"/>
<path d="M1747,440 L1739.5,426.0 L1754.5,426.0Z" fill="#000"/>
<text x="1402" y="425" font-family="Liberation Sans" font-size="22" fill="#222" stroke="#333" stroke-width="0.45">1.3м</text>
<text x="1562" y="425" font-family="Liberation Sans" font-size="22" fill="#222" stroke="#333" stroke-width="0.45">1.3м</text>
<text x="1758" y="408.5" font-family="Liberation Sans" font-size="22" fill="#222" stroke="#333" stroke-width="0.45">1.3м</text>
<path d="M283.7,778.1 C288.8,774.7 296.4,770.8 302.7,770.8 C309.0,770.8 316.3,774.7 321.6,778.1 C326.9,781.5 330.8,788.3 334.7,791.2 C338.6,794.1 342.2,793.9 344.9,795.6 C347.6,797.3 349.4,796.8 350.8,801.4 C352.2,806.0 351.6,814.8 353.0,823.3 C354.4,831.8 359.1,833.1 359.5,852.5 C359.9,871.9 356.6,922.2 355.1,939.9 C353.7,957.6 354.2,954.9 350.8,958.8 C347.4,962.7 338.1,961.0 334.7,963.2 C331.3,965.4 331.1,968.6 330.4,972.0 C329.7,975.4 331.9,980.7 330.4,983.6 C328.9,986.5 324.8,988.5 321.6,989.5 C318.4,990.5 316.5,989.8 311.4,989.5 C306.3,989.2 296.6,990.9 291.0,988.0 C285.4,985.1 280.3,976.6 277.9,972.0 C275.5,967.4 278.6,964.7 276.4,960.3 C274.2,955.9 267.5,951.5 264.8,945.7 C262.1,939.9 260.9,932.3 260.4,925.3 C259.9,918.3 263.3,909.1 261.9,903.5 C260.4,897.9 254.4,897.4 251.7,891.8 C249.0,886.2 246.1,878.9 245.8,869.9 C245.6,860.9 248.0,844.0 250.2,837.9 C252.4,831.8 256.7,836.4 258.9,833.5 C261.1,830.6 261.1,827.4 263.3,820.4 C265.5,813.4 268.7,798.2 272.1,791.2 C275.5,784.2 278.6,781.5 283.7,778.1 Z" fill="#000" stroke="none" stroke-width="0" stroke-linecap="round" stroke-linejoin="round" />
<path d="M353.7,826.2 C355.4,810.7 358.8,820.9 363.9,817.5 C369.0,814.1 379.2,806.0 384.3,805.8 C389.4,805.5 390.4,816.2 394.5,816.0 C398.6,815.8 403.5,806.1 409.1,804.4 C414.7,802.7 422.9,802.6 428.0,805.8 C433.1,808.9 437.5,816.0 439.7,823.3 C441.9,830.6 438.9,843.7 441.1,849.5 C443.3,855.3 450.4,853.9 452.8,858.3 C455.2,862.7 456.4,870.0 455.7,875.8 C455.0,881.6 448.1,887.5 448.4,893.3 C448.6,899.1 456.2,901.6 457.2,910.8 C458.2,920.0 454.6,940.4 454.3,948.6 C454.1,956.9 456.9,954.5 455.7,960.3 C454.5,966.1 450.6,978.2 447.0,983.6 C443.4,989.0 436.2,987.5 433.8,992.4 C431.4,997.3 434.1,1007.0 432.4,1012.8 C430.7,1018.6 427.7,1023.5 423.6,1027.4 C419.5,1031.3 411.0,1041.0 407.6,1036.1 C404.2,1031.2 405.4,1004.5 403.2,998.2 C401.0,991.9 397.4,996.2 394.5,998.2 C391.6,1000.2 389.2,1009.4 385.8,1009.9 C382.4,1010.4 376.5,1005.5 374.1,1001.1 C371.7,996.7 371.0,988.2 371.2,983.6 C371.4,979.0 377.0,976.5 375.5,973.4 C374.0,970.2 365.5,969.1 362.4,964.7 C359.2,960.3 358.1,956.2 356.6,947.2 C355.2,938.2 354.2,931.0 353.7,910.8 C353.2,890.6 352.0,841.8 353.7,826.2 Z" fill="#000" stroke="none" stroke-width="0" stroke-linecap="round" stroke-linejoin="round" />
<path d="M288.1,884.5 L292.8,884.5 L295.4,910.8 L304.1,939.9 L310.0,942.8 L320.2,937.0 L311.4,954.5 L308.5,990.2 L291.0,990.2 L295.4,954.5 L293.9,910.8Z" fill="#fff" stroke="none" stroke-width="0" stroke-linejoin="round" />
<path d="M392.3,931.2 C392.2,935.1 390.8,947.2 391.6,954.5 C392.5,961.8 395.2,970.8 397.4,974.9 C399.6,979.0 401.8,979.1 404.7,979.3 C407.6,979.5 411.2,979.5 414.9,976.3 C418.5,973.1 424.4,965.4 426.6,960.3 C428.8,955.2 427.8,948.1 428.0,945.7 " fill="none" stroke="#fff" stroke-width="3" stroke-linecap="round" stroke-linejoin="round" />
<path d="M394.5,974.9 L417.8,982.2 L404.7,1001.1 L393.0,1001.1Z" fill="#fff" stroke="none" stroke-width="0" stroke-linejoin="round" />
<path d="M292,991 L310,991 L313,1052 L326,1105 L342,1137 L355,1148 L363,1137 L374,1079 L387,1020 L395,978 L406,986 L400,1052 L382,1132 L374,1174 L377,1198 L384,1222 L313,1222 L313,1158 L305,1105 L294,1052Z" fill="#fff" stroke="none" stroke-width="0" stroke-linejoin="round" />
<path d="M292,988 C292.3,998.7 291.8,1032.5 294,1052 C296.2,1071.5 301.8,1087.3 305,1105 C308.2,1122.7 311.5,1143.8 313,1158 C314.5,1172.2 314.0,1179.3 314,1190 C314.0,1200.7 313.2,1216.7 313,1222 " fill="none" stroke="#000" stroke-width="3.4" stroke-linecap="round" stroke-linejoin="round" />
<path d="M309,988 C309.7,998.7 310.2,1032.5 313,1052 C315.8,1071.5 321.2,1090.8 326,1105 C330.8,1119.2 337.2,1129.8 342,1137 C346.8,1144.2 351.5,1148.0 355,1148 C358.5,1148.0 359.8,1148.5 363,1137 C366.2,1125.5 370.0,1098.5 374,1079 C378.0,1059.5 383.5,1036.8 387,1020 C390.5,1003.2 393.7,985.0 395,978 " fill="none" stroke="#000" stroke-width="3" stroke-linecap="round" stroke-linejoin="round" />
<path d="M406,986 C405.0,997.0 404.0,1027.7 400,1052 C396.0,1076.3 386.3,1111.7 382,1132 C377.7,1152.3 374.8,1163.0 374,1174 C373.2,1185.0 375.3,1190.0 377,1198 C378.7,1206.0 382.8,1218.0 384,1222 " fill="none" stroke="#000" stroke-width="3.4" stroke-linecap="round" stroke-linejoin="round" />
<path d="M220,1227 C233.3,1226.8 273.3,1226.0 300,1226 C326.7,1226.0 352.7,1227.3 380,1227 C407.3,1226.7 450.0,1224.5 464,1224 " fill="none" stroke="#222" stroke-width="4.2" stroke-linecap="round" stroke-linejoin="round" />
<path d="M246,1230 L228,1264" fill="none" stroke="#000" stroke-width="4.5" stroke-linecap="round" stroke-linejoin="round" />
<path d="M284,1230 L268,1256" fill="none" stroke="#000" stroke-width="4.5" stroke-linecap="round" stroke-linejoin="round" />
<path d="M337,1230 L321,1259" fill="none" stroke="#000" stroke-width="4.5" stroke-linecap="round" stroke-linejoin="round" />
<path d="M387,1230 L369,1259" fill="none" stroke="#000" stroke-width="4.5" stroke-linecap="round" stroke-linejoin="round" />
<path d="M453,1230 L438,1256" fill="none" stroke="#000" stroke-width="4.5" stroke-linecap="round" stroke-linejoin="round" />
<line x1="318" y1="1134.3" x2="427" y2="1134.3" stroke="#222" stroke-width="2" stroke-dasharray="3 4"/>
<line x1="241" y1="1163.5" x2="430" y2="1163.5" stroke="#222" stroke-width="2.2" stroke-dasharray="3 4"/>
<path d="M413.7,1146 L413.7,1210" fill="none" stroke="#000" stroke-width="1.3" stroke-linecap="round" stroke-linejoin="round" />
<path d="M413.7,1137 L418.7,1147.0 L408.7,1147.0Z" fill="#000"/>
<path d="M413.7,1219 L408.7,1209.0 L418.7,1209.0Z" fill="#000"/>
<text x="429" y="1147.6" font-family="Liberation Sans" font-size="21" fill="#333" stroke="#333" stroke-width="0.45">1.3м</text>
<text x="73" y="1152.9" font-family="Liberation Sans" font-size="28" fill="#222" stroke="#222" stroke-width="0.5" textLength="77" lengthAdjust="spacingAndGlyphs">Точка</text>
<text x="63" y="1187.4" font-family="Liberation Sans" font-size="28" fill="#222" stroke="#222" stroke-width="0.5" textLength="151" lengthAdjust="spacingAndGlyphs">измерения</text>
<path d="M1043.8,839.4 C1044.0,836.6 1044.2,834.4 1047.9,831.1 C1051.6,827.9 1061.0,825.0 1066.1,819.9 C1071.2,814.8 1074.3,805.7 1078.7,800.3 C1083.1,794.9 1087.4,791.0 1092.7,787.7 C1098.0,784.4 1104.3,782.7 1110.8,780.7 C1117.3,778.7 1126.0,776.7 1131.8,775.9 C1137.6,775.1 1142.1,776.7 1145.8,775.9 C1149.5,775.1 1150.7,772.8 1154.2,771.0 C1157.7,769.2 1161.6,766.9 1166.7,765.4 C1171.8,763.9 1179.1,762.1 1184.9,761.9 C1190.7,761.7 1198.2,763.0 1201.7,764.0 C1205.2,765.0 1205.0,765.7 1205.9,768.2 C1206.8,770.8 1204.5,777.7 1207.3,779.3 C1210.1,780.9 1217.5,778.2 1222.6,777.9 C1227.7,777.5 1234.3,776.3 1238.0,777.2 C1241.7,778.1 1244.5,780.8 1245.0,783.5 C1245.5,786.2 1239.2,789.8 1240.8,793.3 C1242.4,796.8 1250.6,800.8 1254.8,804.5 C1259.0,808.2 1264.1,811.7 1265.9,815.7 C1267.8,819.7 1265.2,824.8 1265.9,828.3 C1266.6,831.8 1270.5,832.9 1270.1,836.6 C1269.6,840.3 1263.0,847.3 1263.2,850.6 C1263.4,853.9 1270.3,853.9 1271.5,856.2 C1272.7,858.5 1272.6,861.8 1270.1,864.6 C1267.5,867.4 1259.0,869.7 1256.2,873.0 C1253.4,876.3 1254.8,881.4 1253.4,884.2 C1252.0,887.0 1249.4,885.8 1247.8,889.7 C1246.2,893.7 1247.1,903.7 1243.6,907.9 C1240.1,912.1 1231.9,912.1 1226.8,914.9 C1221.7,917.7 1218.6,921.4 1212.8,924.7 C1207.0,928.0 1195.6,931.0 1191.9,934.5 C1188.2,938.0 1194.0,942.8 1190.5,945.6 C1187.0,948.4 1176.5,951.4 1170.9,951.2 C1165.3,951.0 1161.1,944.7 1156.9,944.2 C1152.7,943.7 1150.0,948.2 1145.8,948.4 C1141.6,948.6 1138.8,945.6 1131.8,945.6 C1124.8,945.6 1111.5,947.9 1103.8,948.4 C1096.1,948.9 1090.3,949.3 1085.7,948.4 C1081.1,947.5 1078.5,945.6 1075.9,942.8 C1073.3,940.0 1071.5,935.9 1070.3,931.7 C1069.1,927.5 1070.3,920.0 1068.9,917.7 C1067.5,915.4 1064.5,920.0 1061.9,917.7 C1059.3,915.4 1055.6,908.4 1053.5,903.7 C1051.4,899.0 1051.4,892.7 1049.3,889.7 C1047.2,886.7 1043.8,887.9 1041.0,885.6 C1038.2,883.3 1033.8,879.1 1032.6,875.8 C1031.4,872.5 1032.1,869.7 1034.0,866.0 C1035.9,862.3 1041.7,856.4 1043.8,853.4 C1045.9,850.4 1046.6,850.1 1046.6,847.8 C1046.6,845.5 1043.6,842.2 1043.8,839.4 Z" fill="#000" stroke="none" stroke-width="0" stroke-linecap="round" stroke-linejoin="round" />
<path d="M1108.0,888.3 L1113.6,889.7 L1103.8,924.7 L1103.1,941.4 L1120.6,934.5 L1131.8,941.4 L1159.7,913.5 L1165.3,906.5 L1159.7,873.0 L1163.9,871.6 L1170.9,902.3 L1197.5,882.8 L1198.2,871.6 L1201.7,871.6 L1201.7,884.2 L1176.5,910.7 L1158.3,930.3 L1151.4,942.8 L1140.2,970.0 L1089.9,970.0 L1092.7,945.6 L1098.3,917.7Z" fill="#fff" stroke="none" stroke-width="0" stroke-linejoin="round" />
<path d="M1105.2,941.4 C1105.9,943.7 1107.5,952.2 1109.4,955.4 C1111.3,958.5 1113.6,960.5 1116.4,960.3 C1119.2,960.1 1122.9,956.9 1126.2,954.0 C1129.5,951.1 1134.4,944.7 1136.0,942.8 " fill="none" stroke="#000" stroke-width="3" stroke-linecap="round" stroke-linejoin="round" />
<path d="M1201.7,884.2 C1197.5,888.6 1183.7,903.0 1176.5,910.7 C1169.3,918.4 1162.5,924.9 1158.3,930.3 C1154.1,935.6 1154.4,936.2 1151.4,942.8 C1148.4,949.4 1146.6,958.5 1140.2,970.0 C1133.8,981.5 1118.9,1000.7 1113,1012 C1107.1,1023.3 1107.3,1029.5 1105,1038 C1102.7,1046.5 1101.0,1054.0 1099,1063 C1097.0,1072.0 1093.5,1082.5 1093,1092 C1092.5,1101.5 1095.5,1115.3 1096,1120 " fill="none" stroke="#000" stroke-width="3.4" stroke-linecap="round" stroke-linejoin="round" />
<path d="M1090,946 C1090.0,950.3 1089.5,965.8 1090,972 C1090.5,978.2 1094.8,976.0 1093,983 C1091.2,990.0 1083.7,1003.5 1079,1014 C1074.3,1024.5 1068.3,1038.7 1065,1046 C1061.7,1053.3 1061.0,1052.3 1059,1058 C1057.0,1063.7 1056.8,1071.0 1053,1080 C1049.2,1089.0 1043.0,1098.7 1036,1112 C1029.0,1125.3 1016.7,1147.7 1011,1160 C1005.3,1172.3 1003.5,1181.7 1002,1186 " fill="none" stroke="#000" stroke-width="3.4" stroke-linecap="round" stroke-linejoin="round" />
<ellipse cx="1024" cy="1005" rx="15" ry="13" fill="#000"/>
<ellipse cx="1060.5" cy="997" rx="14" ry="13" fill="#000"/>
<path d="M1037,1015 C1037.2,1019.3 1034.5,1034.3 1038,1041 C1041.5,1047.7 1054.2,1051.8 1058,1055 C1061.8,1058.2 1060.5,1059.2 1061,1060 " fill="none" stroke="#000" stroke-width="2.4" stroke-linecap="round" stroke-linejoin="round" />
<path d="M1046,1010 C1045.7,1012.8 1041.2,1020.7 1044,1027 C1046.8,1033.3 1059.8,1044.5 1063,1048 " fill="none" stroke="#000" stroke-width="2.4" stroke-linecap="round" stroke-linejoin="round" />
<path d="M931,1059 L1042,1069" fill="none" stroke="#000" stroke-width="2.6" stroke-linecap="round" stroke-linejoin="round" />
<line x1="1030" y1="1039" x2="1136" y2="1072" stroke="#222" stroke-width="2" stroke-dasharray="3 4"/>
<line x1="1022" y1="1056" x2="1130" y2="1089" stroke="#777" stroke-width="1.6" stroke-dasharray="3 4"/>
<text x="1137" y="1060.3" font-family="Liberation Sans" font-size="19" fill="#222" stroke="#333" stroke-width="0.45">1.3м</text>
<text x="811" y="997.7" font-family="Liberation Sans" font-size="28" fill="#222" stroke="#222" stroke-width="0.5" textLength="77" lengthAdjust="spacingAndGlyphs">Точка</text>
<text x="803" y="1031.8" font-family="Liberation Sans" font-size="28" fill="#222" stroke="#222" stroke-width="0.5" textLength="148" lengthAdjust="spacingAndGlyphs">измерения</text>
<path d="M948,1177 C958.0,1174.2 992.3,1166.2 1008,1160 C1023.7,1153.8 1027.8,1146.7 1042,1140 C1056.2,1133.3 1075.0,1126.7 1093,1120 C1111.0,1113.3 1132.8,1106.2 1150,1100 C1167.2,1093.8 1180.8,1089.2 1196,1083 C1211.2,1076.8 1225.8,1069.7 1241,1063 C1256.2,1056.3 1275.5,1047.2 1287,1043 C1298.5,1038.8 1306.2,1038.8 1310,1038 " fill="none" stroke="#000" stroke-width="3.4" stroke-linecap="round" stroke-linejoin="round" />
<path d="M957,1180 L954,1203" fill="none" stroke="#000" stroke-width="4.2" stroke-linecap="round" stroke-linejoin="round" />
<path d="M1008,1163 L1002,1186" fill="none" stroke="#000" stroke-width="4.2" stroke-linecap="round" stroke-linejoin="round" />
<path d="M1036,1149 L1033,1166" fill="none" stroke="#000" stroke-width="4.2" stroke-linecap="round" stroke-linejoin="round" />
<path d="M1065,1137 L1059,1154" fill="none" stroke="#000" stroke-width="4.2" stroke-linecap="round" stroke-linejoin="round" />
<path d="M1102,1123 L1099,1143" fill="none" stroke="#000" stroke-width="4.2" stroke-linecap="round" stroke-linejoin="round" />
<path d="M1127,1117 L1122,1137" fill="none" stroke="#000" stroke-width="4.2" stroke-linecap="round" stroke-linejoin="round" />
<path d="M1162,1103 L1156,1126" fill="none" stroke="#000" stroke-width="4.2" stroke-linecap="round" stroke-linejoin="round" />
<path d="M1190,1094 L1184,1114" fill="none" stroke="#000" stroke-width="4.2" stroke-linecap="round" stroke-linejoin="round" />
<path d="M1221,1077 L1218,1097" fill="none" stroke="#000" stroke-width="4.2" stroke-linecap="round" stroke-linejoin="round" />
<path d="M1253,1063 L1250,1080" fill="none" stroke="#000" stroke-width="4.2" stroke-linecap="round" stroke-linejoin="round" />
<path d="M1281,1049 L1278,1069" fill="none" stroke="#000" stroke-width="4.2" stroke-linecap="round" stroke-linejoin="round" />
<path d="M1307,1055 L1304,1069" fill="none" stroke="#000" stroke-width="4.2" stroke-linecap="round" stroke-linejoin="round" />
<rect x="1351" y="843" width="240" height="322" fill="#fafafa"/>
<rect x="1623" y="896" width="268" height="259" fill="#fafafa"/>
<path d="M1415.5,859.4 C1420.4,857.5 1427.7,857.2 1433.8,855.9 C1439.9,854.6 1447.1,852.3 1452.0,851.4 C1456.9,850.5 1460.0,849.8 1463.4,850.2 C1466.8,850.6 1468.1,853.3 1472.5,853.7 C1476.9,854.1 1484.9,852.9 1489.6,852.5 C1494.3,852.1 1497.1,850.6 1500.9,851.4 C1504.7,852.2 1507.5,855.0 1512.3,857.1 C1517.0,859.2 1524.3,862.2 1529.4,863.9 C1534.5,865.6 1538.3,865.0 1543.1,867.3 C1547.8,869.6 1554.1,873.8 1557.9,877.6 C1561.7,881.4 1562.7,886.1 1565.9,890.1 C1569.1,894.1 1574.6,898.1 1577.2,901.5 C1579.8,904.9 1581.4,907.2 1581.8,910.6 C1582.2,914.0 1579.9,918.6 1579.5,922.0 C1579.1,925.4 1580.6,927.7 1579.5,931.1 C1578.4,934.5 1575.4,938.7 1572.7,942.5 C1570.0,946.3 1565.3,950.1 1563.6,953.9 C1561.9,957.7 1564.7,962.5 1562.4,965.3 C1560.1,968.1 1553.5,968.1 1549.9,970.9 C1546.3,973.7 1544.6,979.8 1540.8,982.3 C1537.0,984.8 1530.5,984.8 1527.1,985.8 C1523.7,986.8 1522.6,987.1 1520.3,988.0 C1518.0,988.9 1515.8,990.6 1513.5,991.4 C1511.2,992.2 1509.6,993.0 1506.6,992.6 C1503.6,992.2 1499.1,990.2 1495.3,989.2 C1491.5,988.2 1487.1,986.5 1483.9,986.9 C1480.7,987.3 1478.8,990.6 1475.9,991.4 C1473.1,992.1 1469.7,992.0 1466.8,991.4 C1463.9,990.8 1462.4,988.8 1458.8,988.0 C1455.2,987.2 1449.6,987.5 1445.2,986.9 C1440.8,986.3 1437.9,986.3 1432.6,984.6 C1427.3,982.9 1419.0,979.1 1413.3,976.6 C1407.6,974.1 1401.3,972.3 1398.5,969.8 C1395.7,967.3 1398.1,965.4 1396.2,961.8 C1394.3,958.2 1389.8,951.8 1387.1,948.2 C1384.4,944.6 1381.5,943.1 1380.2,940.2 C1378.9,937.4 1378.3,934.1 1379.1,931.1 C1379.9,928.1 1383.1,924.9 1384.8,922.0 C1386.5,919.1 1389.0,917.0 1389.4,914.0 C1389.8,911.0 1387.3,908.5 1387.1,903.8 C1386.9,899.0 1387.1,890.6 1388.2,885.5 C1389.3,880.4 1391.2,876.0 1393.9,873.0 C1396.6,870.0 1400.6,869.6 1404.2,867.3 C1407.8,865.0 1410.6,861.3 1415.5,859.4 Z" fill="#000" stroke="none" stroke-width="0" stroke-linecap="round" stroke-linejoin="round" />
<path d="M1510.1,937.9 L1514.0,936.8 L1518.0,953.9 L1523.7,961.8 L1529.4,960.7 L1554.5,933.4 L1559.6,936.2 L1537.4,965.3 L1523.7,988.0 L1518.0,1001.7 L1512.3,1001.7 L1516.9,988.0 L1519.2,970.9 L1513.5,953.9Z" fill="#fafafa" stroke="none" stroke-width="0" stroke-linejoin="round" />
<path d="M1443,988 L1453,987 L1464,994 L1482,1014 L1498,1001 L1515,988 L1522,988 L1509,1012 L1504,1049 L1508,1085 L1518,1142 L1467,1143 L1471,1103 L1467,1049 L1457,1008Z" fill="#fafafa" stroke="none" stroke-width="0" stroke-linejoin="round" />
<path d="M1442,986 C1444.5,989.7 1452.8,997.5 1457,1008 C1461.2,1018.5 1464.7,1033.2 1467,1049 C1469.3,1064.8 1471.0,1087.3 1471,1103 C1471.0,1118.7 1467.7,1136.3 1467,1143 " fill="none" stroke="#000" stroke-width="3.4" stroke-linecap="round" stroke-linejoin="round" />
<path d="M1522,988 C1519.8,992.0 1512.0,1001.8 1509,1012 C1506.0,1022.2 1504.2,1036.8 1504,1049 C1503.8,1061.2 1505.7,1069.5 1508,1085 C1510.3,1100.5 1516.3,1132.5 1518,1142 " fill="none" stroke="#000" stroke-width="3.4" stroke-linecap="round" stroke-linejoin="round" />
<path d="M1463,993 C1464.5,995.5 1468.8,1004.5 1472,1008 C1475.2,1011.5 1478.7,1014.2 1482,1014 C1485.3,1013.8 1489.2,1009.3 1492,1007 C1494.8,1004.7 1497.8,1001.2 1499,1000 " fill="none" stroke="#000" stroke-width="3" stroke-linecap="round" stroke-linejoin="round" />
<ellipse cx="1423" cy="1052" rx="19" ry="14" fill="#000"/>
<path d="M1437,1060 C1439.5,1062.2 1447.0,1069.2 1452,1073 C1457.0,1076.8 1464.5,1081.3 1467,1083 " fill="none" stroke="#000" stroke-width="2.2" stroke-linecap="round" stroke-linejoin="round" />
<path d="M1440,1052 C1442.5,1054.3 1450.3,1062.7 1455,1066 C1459.7,1069.3 1465.8,1071.0 1468,1072 " fill="none" stroke="#000" stroke-width="2.2" stroke-linecap="round" stroke-linejoin="round" />
<line x1="1437" y1="1056" x2="1531" y2="1056" stroke="#111" stroke-width="2.2" stroke-dasharray="3 4"/>
<line x1="1418" y1="1076" x2="1530" y2="1076" stroke="#888" stroke-width="2" stroke-dasharray="3 4"/>
<text x="1357" y="1092.3" font-family="Liberation Sans" font-size="21" fill="#222" stroke="#333" stroke-width="0.45">1.3м</text>
<path d="M1360,1144 C1378.3,1143.8 1434.2,1143.3 1470,1143 C1505.8,1142.7 1557.5,1142.2 1575,1142 " fill="none" stroke="#333" stroke-width="4" stroke-linecap="round" stroke-linejoin="round" />
<path d="M1384,1148 L1373,1163" fill="none" stroke="#777" stroke-width="3.2" stroke-linecap="round" stroke-linejoin="round" stroke-dasharray="5 3"/>
<path d="M1416,1148 L1405,1163" fill="none" stroke="#777" stroke-width="3.2" stroke-linecap="round" stroke-linejoin="round" stroke-dasharray="5 3"/>
<path d="M1449,1148 L1438,1163" fill="none" stroke="#777" stroke-width="3.2" stroke-linecap="round" stroke-linejoin="round" stroke-dasharray="5 3"/>
<path d="M1482,1148 L1471,1163" fill="none" stroke="#777" stroke-width="3.2" stroke-linecap="round" stroke-linejoin="round" stroke-dasharray="5 3"/>
<path d="M1504,1148 L1493,1163" fill="none" stroke="#777" stroke-width="3.2" stroke-linecap="round" stroke-linejoin="round" stroke-dasharray="5 3"/>
<path d="M1529,1148 L1518,1163" fill="none" stroke="#777" stroke-width="3.2" stroke-linecap="round" stroke-linejoin="round" stroke-dasharray="5 3"/>
<path d="M1560,1148 L1549,1163" fill="none" stroke="#777" stroke-width="3.2" stroke-linecap="round" stroke-linejoin="round" stroke-dasharray="5 3"/>
<text x="1537" y="1010.4" font-family="Liberation Sans" font-size="28" fill="#222" stroke="#222" stroke-width="0.5" textLength="77" lengthAdjust="spacingAndGlyphs">Точка</text>
<text x="1526" y="1045" font-family="Liberation Sans" font-size="28" fill="#222" stroke="#222" stroke-width="0.5" textLength="148" lengthAdjust="spacingAndGlyphs">измерения</text>
<path d="M1669.7,919.6 C1672.2,917.0 1675.4,917.9 1679.5,916.6 C1683.6,915.3 1687.8,912.8 1694.3,911.7 C1700.8,910.6 1713.1,910.6 1718.8,909.8 C1724.5,909.0 1723.8,907.1 1728.7,906.8 C1733.6,906.5 1743.4,907.0 1748.3,907.8 C1753.2,908.6 1754.1,911.1 1758.2,911.7 C1762.3,912.4 1768.0,911.2 1772.9,911.7 C1777.8,912.2 1783.6,914.0 1787.7,914.7 C1791.8,915.4 1792.6,915.1 1797.5,915.7 C1802.4,916.4 1812.9,917.1 1817.2,918.6 C1821.5,920.1 1821.9,921.4 1823.1,924.5 C1824.2,927.6 1823.1,933.7 1824.1,937.3 C1825.1,940.9 1828.7,943.0 1829.0,946.1 C1829.3,949.2 1825.7,953.0 1826.0,956.0 C1826.3,959.0 1830.3,961.2 1831.0,963.8 C1831.7,966.4 1830.7,969.1 1830.0,971.7 C1829.3,974.3 1827.2,977.3 1827.0,979.6 C1826.8,981.9 1829.3,983.2 1829.0,985.5 C1828.7,987.8 1827.1,990.7 1825.1,993.3 C1823.1,995.9 1821.0,999.2 1817.2,1001.2 C1813.4,1003.2 1807.3,1003.5 1802.4,1005.1 C1797.5,1006.8 1792.6,1009.8 1787.7,1011.1 C1782.8,1012.4 1777.5,1013.0 1772.9,1013.0 C1768.3,1013.0 1764.2,1011.8 1760.1,1011.1 C1756.0,1010.5 1750.9,1009.6 1748.3,1009.1 C1745.7,1008.6 1748.3,1008.1 1744.4,1008.1 C1740.5,1008.1 1729.3,1009.1 1724.7,1009.1 C1720.1,1009.1 1719.9,1008.3 1716.9,1008.1 C1714.0,1007.9 1710.8,1008.9 1707.0,1008.1 C1703.2,1007.3 1698.5,1005.7 1694.3,1003.2 C1690.0,1000.7 1685.6,996.6 1681.5,993.3 C1677.4,990.0 1672.8,987.1 1669.7,983.5 C1666.6,979.9 1664.6,975.0 1662.8,971.7 C1661.0,968.4 1659.1,966.8 1658.9,963.8 C1658.7,960.8 1662.0,957.3 1661.8,954.0 C1661.6,950.7 1657.4,947.8 1657.9,944.2 C1658.4,940.6 1662.8,936.5 1664.8,932.4 C1666.8,928.3 1667.2,922.2 1669.7,919.6 Z" fill="#000" stroke="none" stroke-width="0" stroke-linecap="round" stroke-linejoin="round" />
<path d="M1771.8,963.8 L1776.9,963.8 L1774.9,978.6 L1770.0,993.3 L1777.9,993.3 L1782.8,995.3 L1768.0,999.2 L1754.2,1020.9 L1747.4,1022.9 L1758.2,1003.2 L1766.1,991.4 L1772.0,975.6Z" fill="#fafafa" stroke="none" stroke-width="0" stroke-linejoin="round" />
<path d="M1716,1008 L1722,1010 L1733,1024 L1744,1016 L1750,1017 L1748,1036 L1752,1064 L1762,1072 L1764,1085 L1755,1096 L1752,1110 L1756,1133 L1769,1144 L1711,1153 L1716,1130 L1719,1083 L1714,1036Z" fill="#fafafa" stroke="none" stroke-width="0" stroke-linejoin="round" />
<path d="M1716,1008 C1715.7,1012.7 1713.5,1023.5 1714,1036 C1714.5,1048.5 1718.7,1067.3 1719,1083 C1719.3,1098.7 1717.3,1118.3 1716,1130 C1714.7,1141.7 1711.8,1149.2 1711,1153 " fill="none" stroke="#000" stroke-width="3.2" stroke-linecap="round" stroke-linejoin="round" />
<path d="M1750,1017 C1749.7,1020.2 1747.7,1028.2 1748,1036 C1748.3,1043.8 1749.7,1058.0 1752,1064 C1754.3,1070.0 1760.0,1068.5 1762,1072 C1764.0,1075.5 1765.2,1081.0 1764,1085 C1762.8,1089.0 1757.0,1091.8 1755,1096 C1753.0,1100.2 1751.8,1103.8 1752,1110 C1752.2,1116.2 1753.2,1127.3 1756,1133 C1758.8,1138.7 1766.8,1142.2 1769,1144 " fill="none" stroke="#000" stroke-width="3.2" stroke-linecap="round" stroke-linejoin="round" />
<path d="M1723,1011 C1723.7,1012.5 1725.3,1017.8 1727,1020 C1728.7,1022.2 1730.8,1023.8 1733,1024 C1735.2,1024.2 1738.2,1022.3 1740,1021 C1741.8,1019.7 1743.3,1016.8 1744,1016 " fill="none" stroke="#000" stroke-width="3" stroke-linecap="round" stroke-linejoin="round" />
<path d="M1675,1042 L1716,1052" fill="none" stroke="#000" stroke-width="2.4" stroke-linecap="round" stroke-linejoin="round" />
<line x1="1719" y1="1049.5" x2="1778" y2="1049.5" stroke="#111" stroke-width="2.2" stroke-dasharray="3 4"/>
<line x1="1698" y1="1081" x2="1778" y2="1081" stroke="#888" stroke-width="2" stroke-dasharray="3 4"/>
<text x="1798" y="1084.7" font-family="Liberation Sans" font-size="21" fill="#222" stroke="#333" stroke-width="0.45">1.3м</text>
<path d="M1623,1138 C1635.8,1138.7 1673.8,1141.2 1700,1142 C1726.2,1142.8 1749.8,1142.5 1780,1143 C1810.2,1143.5 1864.2,1144.7 1881,1145 " fill="none" stroke="#222" stroke-width="4" stroke-linecap="round" stroke-linejoin="round" />
<path d="M1662,1146 L1656,1157" fill="none" stroke="#333" stroke-width="3.4" stroke-linecap="round" stroke-linejoin="round" />
<path d="M1698,1146 L1692,1157" fill="none" stroke="#333" stroke-width="3.4" stroke-linecap="round" stroke-linejoin="round" />
<path d="M1733,1146 L1727,1157" fill="none" stroke="#333" stroke-width="3.4" stroke-linecap="round" stroke-linejoin="round" />
<path d="M1764,1146 L1758,1157" fill="none" stroke="#333" stroke-width="3.4" stroke-linecap="round" stroke-linejoin="round" />
<path d="M1803,1146 L1797,1157" fill="none" stroke="#333" stroke-width="3.4" stroke-linecap="round" stroke-linejoin="round" />
<path d="M1834,1146 L1828,1157" fill="none" stroke="#333" stroke-width="3.4" stroke-linecap="round" stroke-linejoin="round" />
<path d="M1856,1146 L1850,1157" fill="none" stroke="#333" stroke-width="3.4" stroke-linecap="round" stroke-linejoin="round" />
<path d="M262.0,1571.0 C262.8,1565.5 263.7,1552.1 265.5,1547.6 C267.3,1543.1 271.2,1546.4 272.6,1544.1 C274.0,1541.8 272.7,1537.7 273.7,1533.6 C274.7,1529.5 275.7,1523.8 278.4,1519.5 C281.1,1515.2 285.0,1511.5 290.1,1507.8 C295.2,1504.1 303.8,1499.6 308.9,1497.3 C314.0,1495.0 317.1,1493.7 320.6,1493.7 C324.1,1493.7 325.3,1498.3 330.0,1497.3 C334.7,1496.3 343.2,1489.9 348.7,1487.9 C354.2,1485.9 358.5,1484.5 362.8,1485.5 C367.1,1486.5 371.0,1492.9 374.5,1493.7 C378.0,1494.5 379.3,1489.4 383.8,1490.2 C388.3,1491.0 396.5,1495.1 401.4,1498.4 C406.3,1501.7 409.8,1505.4 413.1,1510.1 C416.4,1514.8 418.0,1523.6 421.3,1526.5 C424.6,1529.4 428.9,1526.1 433.0,1527.7 C437.1,1529.3 442.4,1533.4 445.9,1535.9 C449.4,1538.4 452.9,1539.4 454.1,1542.9 C455.3,1546.4 453.1,1551.5 452.9,1557.0 C452.7,1562.5 455.4,1570.6 452.9,1575.7 C450.4,1580.8 440.2,1582.7 437.7,1587.4 C435.2,1592.1 438.9,1599.1 437.7,1603.8 C436.5,1608.5 432.1,1609.6 430.7,1615.5 C429.3,1621.4 431.4,1633.5 429.5,1639.0 C427.6,1644.5 421.1,1644.4 419.0,1648.3 C416.9,1652.2 418.6,1657.7 416.6,1662.4 C414.7,1667.1 410.8,1673.4 407.3,1676.5 C403.8,1679.6 399.8,1679.5 395.5,1681.1 C391.2,1682.6 384.8,1684.3 381.5,1685.8 C378.2,1687.3 379.6,1689.2 375.6,1690.0 C371.6,1690.8 361.7,1690.2 357.5,1690.6 C353.3,1690.9 353.2,1691.7 350.2,1692.1 C347.1,1692.5 342.0,1693.3 339.2,1692.8 C336.4,1692.3 335.7,1690.7 333.4,1689.2 C331.1,1687.8 327.2,1686.9 325.4,1684.1 C323.6,1681.3 324.4,1673.5 322.5,1672.5 C320.6,1671.5 315.9,1677.8 313.7,1678.3 C311.5,1678.8 311.1,1676.0 309.3,1675.4 C307.5,1674.8 305.7,1676.1 302.8,1674.7 C299.9,1673.3 295.3,1670.2 292.0,1667.0 C288.7,1663.8 286.0,1658.9 283.1,1655.4 C280.2,1651.9 276.5,1649.5 274.9,1646.0 C273.3,1642.5 274.9,1637.8 273.7,1634.3 C272.5,1630.8 269.4,1630.0 267.9,1624.9 C266.3,1619.8 265.0,1609.3 264.4,1603.8 C263.8,1598.3 265.0,1596.0 264.4,1592.1 C263.8,1588.2 261.3,1583.9 260.9,1580.4 C260.5,1576.9 261.2,1576.5 262.0,1571.0 Z" fill="#000" stroke="none" stroke-width="0" stroke-linecap="round" stroke-linejoin="round" />
<path d="M283.1,1655 L291.9,1666.6 L297.7,1692.9 L299.2,1706 L306.4,1707.5 L321,1702.4 L339.2,1692.9 L350.2,1692.2 L339.2,1703.8 L328.3,1714.8 L307.9,1726 L294,1745 L278.5,1781.3 L259.3,1841.2 L249.7,1882 L194.7,1882 L221,1843.6 L249.7,1774 L271.3,1704.7Z" fill="#fff" stroke="none" stroke-width="0" stroke-linejoin="round" />
<path d="M299.2,1620 L303.8,1620 L292.5,1668 L282.5,1660Z" fill="#fff" stroke="none" stroke-width="0" stroke-linejoin="round" />
<path d="M352.4,1633 L300.6,1671" fill="none" stroke="#fff" stroke-width="3.2" stroke-linecap="round" stroke-linejoin="round" />
<path d="M368.4,1655 L360,1672 L350.2,1692" fill="none" stroke="#fff" stroke-width="2.4" stroke-linecap="round" stroke-linejoin="round" />
<path d="M303,1672 L299.2,1682 L297.7,1693 L299.2,1706 L306.4,1707.5 L321,1702.4 L339.2,1692.9 L333.4,1689.2 L325.4,1684.1 L322.5,1672.5 L313.7,1678.3 L309.4,1675.4 L302.8,1674.7Z" fill="#fff" stroke="none" stroke-width="0" stroke-linejoin="round" />
<path d="M304.3,1671 C303.4,1672.8 300.3,1678.3 299.2,1682 C298.1,1685.7 297.7,1689.0 297.7,1693 C297.7,1697.0 297.8,1703.6 299.2,1706 C300.6,1708.4 302.8,1708.1 306.4,1707.5 C310.0,1706.9 315.5,1704.8 321,1702.4 C326.5,1700.0 334.3,1695.6 339.2,1692.9 C344.1,1690.2 348.4,1687.2 350.2,1686 " fill="none" stroke="#000" stroke-width="2.8" stroke-linecap="round" stroke-linejoin="round" />
<path d="M350.2,1692.2 C348.4,1694.1 342.8,1700.0 339.2,1703.8 C335.6,1707.6 333.5,1711.1 328.3,1714.8 C323.1,1718.5 313.6,1721.0 307.9,1726 C302.2,1731.0 298.9,1735.8 294,1745 C289.1,1754.2 282.8,1770.5 278.5,1781.3 C274.2,1792.1 271.2,1800.0 268,1810 C264.8,1820.0 262.4,1829.2 259.3,1841.2 C256.2,1853.2 251.3,1875.2 249.7,1882 " fill="none" stroke="#000" stroke-width="3.2" stroke-linecap="round" stroke-linejoin="round" />
<path d="M283,1655 C281.8,1659.2 278.0,1671.7 276,1680 C274.0,1688.3 273.3,1695.0 271,1705 C268.7,1715.0 265.5,1728.5 262,1740 C258.5,1751.5 254.3,1762.3 250,1774 C245.7,1785.7 240.8,1798.3 236,1810 C231.2,1821.7 227.8,1832.0 221,1844 C214.2,1856.0 199.3,1875.7 195,1882 " fill="none" stroke="#000" stroke-width="3.2" stroke-linecap="round" stroke-linejoin="round" />
<path d="M144,1882 C161.7,1882.3 220.3,1883.2 250,1884 C279.7,1884.8 298.2,1887.0 322,1887 C345.8,1887.0 366.3,1885.2 393,1884 C419.7,1882.8 467.2,1880.7 482,1880 " fill="none" stroke="#111" stroke-width="4.4" stroke-linecap="round" stroke-linejoin="round" />
<path d="M166,1887 L156,1913" fill="none" stroke="#111" stroke-width="3.6" stroke-linecap="round" stroke-linejoin="round" />
<path d="M197,1887 L190,1913" fill="none" stroke="#111" stroke-width="3.6" stroke-linecap="round" stroke-linejoin="round" />
<path d="M226,1887 L219,1913" fill="none" stroke="#111" stroke-width="3.6" stroke-linecap="round" stroke-linejoin="round" />
<path d="M262,1887 L254,1913" fill="none" stroke="#111" stroke-width="3.6" stroke-linecap="round" stroke-linejoin="round" />
<path d="M295,1887 L286,1913" fill="none" stroke="#111" stroke-width="3.6" stroke-linecap="round" stroke-linejoin="round" />
<path d="M324,1887 L317,1913" fill="none" stroke="#111" stroke-width="3.6" stroke-linecap="round" stroke-linejoin="round" />
<path d="M360,1887 L350,1913" fill="none" stroke="#111" stroke-width="3.6" stroke-linecap="round" stroke-linejoin="round" />
<path d="M393,1887 L384,1913" fill="none" stroke="#111" stroke-width="3.6" stroke-linecap="round" stroke-linejoin="round" />
<path d="M427,1887 L417,1913" fill="none" stroke="#111" stroke-width="3.6" stroke-linecap="round" stroke-linejoin="round" />
<path d="M460,1887 L448,1913" fill="none" stroke="#111" stroke-width="3.6" stroke-linecap="round" stroke-linejoin="round" />
<line x1="216" y1="1798" x2="283" y2="1824" stroke="#333" stroke-width="1.8" stroke-dasharray="3 4"/>
<path d="M268,1830 L254,1867" fill="none" stroke="#555" stroke-width="1.3" stroke-linecap="round" stroke-linejoin="round" stroke-dasharray="3 2"/>
<path d="M274,1818 L275.4,1830.2 L265.1,1826.5Z" fill="#000"/>
<path d="M250,1878 L248.6,1865.8 L258.9,1869.5Z" fill="#000"/>
<text x="307" y="1841.2" font-family="Liberation Sans" font-size="17" fill="#222" stroke="#333" stroke-width="0.45">1.3м</text>
<rect x="1071" y="1758" width="714" height="68" fill="#d8d8d8"/>
<rect x="1074" y="1761" width="708" height="61" fill="#8a8a8a"/>
<path d="M1284,1668 L1329,1672 L1364,1677 L1579,1677 L1579,1672 L1767,1672 L1767,1752 L1310,1750 L1284,1749Z" fill="#000" stroke="none" stroke-width="0" stroke-linejoin="round" />
<path d="M1208,1658 L1255,1661 L1287,1667 L1287,1749 L1236,1747 L1216,1743 L1216,1723 L1208,1691Z" fill="#000" stroke="none" stroke-width="0" stroke-linejoin="round" />
<path d="M1151,1594 L1159,1594 L1190,1619 L1216,1636 L1242,1650 L1255,1661 L1208,1665 L1190,1639 L1177,1632 L1164,1619Z" fill="#000" stroke="none" stroke-width="0" stroke-linejoin="round" />
<path d="M1094,1640 L1112,1650 L1133,1659 L1159,1666 L1208,1660 L1210,1690 L1177,1691 L1161,1683 L1133,1668 L1099,1646Z" fill="#000" stroke="none" stroke-width="0" stroke-linejoin="round" />
<path d="M1073,1719 L1112,1711 L1146,1697 L1161,1689 L1205,1689 L1203,1691 L1161,1694 L1138,1710 L1122,1719 L1073,1721Z" fill="#000" stroke="none" stroke-width="0" stroke-linejoin="round" />
<path d="M1077,1736 L1099,1744 L1141,1734 L1174,1718 L1195,1694 L1212,1692 L1216,1723 L1190,1727 L1151,1745 L1125,1752 L1104,1754 L1099,1748Z" fill="#000" stroke="none" stroke-width="0" stroke-linejoin="round" />
<path d="M1208,1742 L1236,1747 L1220,1753 L1197,1767 L1161,1786 L1138,1796 L1115,1814 L1133,1786 L1141,1774 L1177,1757Z" fill="#000" stroke="none" stroke-width="0" stroke-linejoin="round" />
<path d="M1093,1786 L1133,1786" fill="none" stroke="#222" stroke-width="2.2" stroke-linecap="round" stroke-linejoin="round" />
<line x1="1285.5" y1="1671" x2="1285.5" y2="1750" stroke="#ddd" stroke-width="1.8" stroke-dasharray="4 3"/>
<line x1="1533.5" y1="1677" x2="1533.5" y2="1752" stroke="#ddd" stroke-width="1.8" stroke-dasharray="4 3"/>
<path d="M1272,1595 L1288,1662" fill="none" stroke="#444" stroke-width="1.8" stroke-linecap="round" stroke-linejoin="round" />
<line x1="1542" y1="1672" x2="1644" y2="1581" stroke="#555" stroke-width="2" stroke-dasharray="3 3"/>
<path d="M1310,1644.4 L1514,1644.4" fill="none" stroke="#000" stroke-width="5" stroke-linecap="round" stroke-linejoin="round" />
<path d="M1290,1644.4 L1315.0,1630.9 L1315.0,1657.9Z" fill="#000"/>
<path d="M1535,1644.4 L1510.0,1657.9 L1510.0,1630.9Z" fill="#000"/>
<text x="1135" y="1551.7" font-family="Liberation Sans" font-size="33" fill="#333" textLength="250" lengthAdjust="spacingAndGlyphs">Точка перехода</text>
<text x="1556" y="1565" font-family="Liberation Sans" font-size="33" fill="#333" textLength="273" lengthAdjust="spacingAndGlyphs">Точка измерения</text>
<text x="1353" y="1628.8" font-family="Liberation Serif" font-size="40" fill="#222" textLength="106" lengthAdjust="spacingAndGlyphs">1,30 m</text>
</svg>
</body></html>
